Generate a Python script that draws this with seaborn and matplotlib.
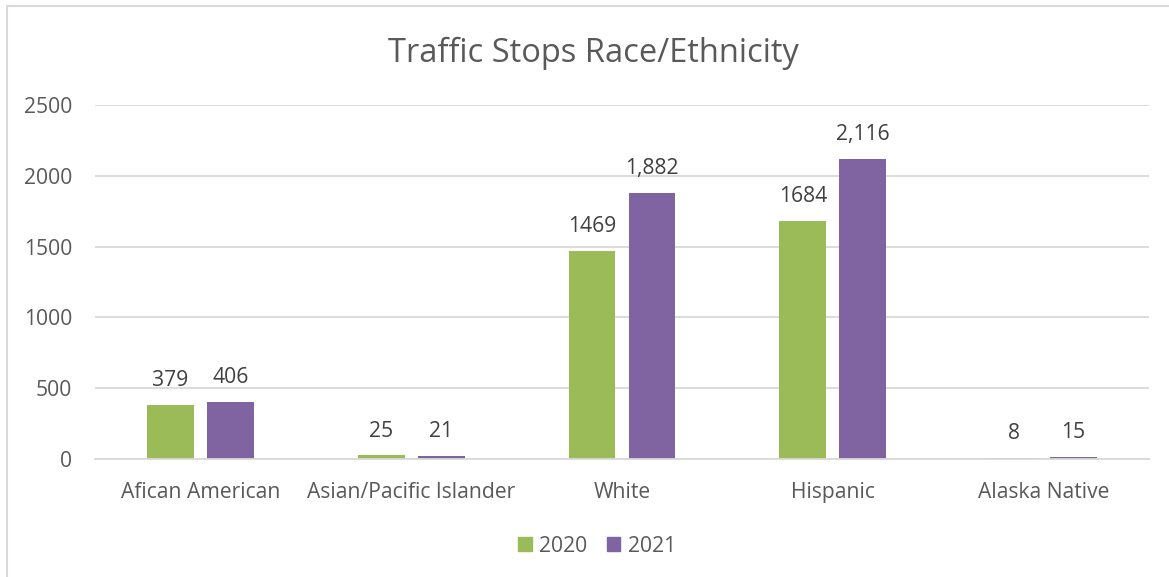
import matplotlib
matplotlib.use("Agg")
import matplotlib.pyplot as plt
import matplotlib.patches as mpatches
import pandas as pd
import seaborn as sns

categories = ["Afican American", "Asian/Pacific Islander", "White", "Hispanic", "Alaska Native"]
years = ["2020", "2021"]
stops_2020 = [379, 25, 1469, 1684, 8]
stops_2021 = [406, 21, 1882, 2116, 15]
labels_2020 = ["379", "25", "1469", "1684", "8"]
labels_2021 = ["406", "21", "1,882", "2,116", "15"]
y_ticks = [0, 500, 1000, 1500, 2000, 2500]

GREEN = "#9BBB59"
PURPLE = "#8064A2"
TEXT = "#595959"
GRID = "#D9D9D9"

df = pd.DataFrame({
    "Category": categories * 2,
    "Year": [years[0]] * len(categories) + [years[1]] * len(categories),
    "Stops": stops_2020 + stops_2021,
})

sns.set_theme(style="white")
plt.rcParams["font.family"] = ["Open Sans", "DejaVu Sans"]

fig = plt.figure(figsize=(11.69, 5.77), dpi=100)
ax = fig.add_axes([95 / 1169, 1 - 459 / 577, (1149 - 95) / 1169, (459 - 105) / 577])

sns.barplot(data=df, x="Category", y="Stops", hue="Year", order=categories,
            hue_order=years, palette=[GREEN, PURPLE], saturation=1,
            width=0.569, gap=0.217, linewidth=0, ax=ax, legend=False)

ax.set_ylim(0, 2500)
ax.set_xlim(-0.5, len(categories) - 0.5)
ax.set_yticks(y_ticks)
ax.yaxis.grid(True, color=GRID, linewidth=1.3)
ax.set_axisbelow(True)
for s in ["top", "right", "left"]:
    ax.spines[s].set_visible(False)
ax.spines["bottom"].set_color(GRID)
ax.spines["bottom"].set_linewidth(1.3)
ax.tick_params(axis="both", length=0, labelsize=15.2, colors=TEXT)
ax.tick_params(axis="x", pad=16.5)
ax.tick_params(axis="y", pad=16.5)
ax.set_xlabel("")
ax.set_ylabel("")

for cont, labs in zip(ax.containers, [labels_2020, labels_2021]):
    ax.bar_label(cont, labels=labs, padding=10, fontsize=15.2, color="#404040")

fig.text(593 / 1169, 1 - 53 / 577, "Traffic Stops Race/Ethnicity", ha="center",
         va="center", fontsize=23.5, color=TEXT)

handles = [mpatches.Patch(color=GREEN, label=years[0]),
           mpatches.Patch(color=PURPLE, label=years[1])]
fig.legend(handles=handles, loc="center", bbox_to_anchor=(597 / 1169, 1 - 546 / 577),
           ncol=2, frameon=False, fontsize=15.2, labelcolor=TEXT, handlelength=0.65,
           handleheight=0.65, handletextpad=0.35, columnspacing=0.9)

# chart area border (top and left edges visible in the crop)
fig.add_artist(plt.Line2D([6.5 / 1169, 1.0], [1 - 5.5 / 577] * 2, color=GRID,
                          linewidth=1.5, transform=fig.transFigure))
fig.add_artist(plt.Line2D([6.5 / 1169] * 2, [0, 1 - 5.5 / 577], color=GRID,
                          linewidth=1.5, transform=fig.transFigure))

fig.savefig("out.png", dpi=100)
